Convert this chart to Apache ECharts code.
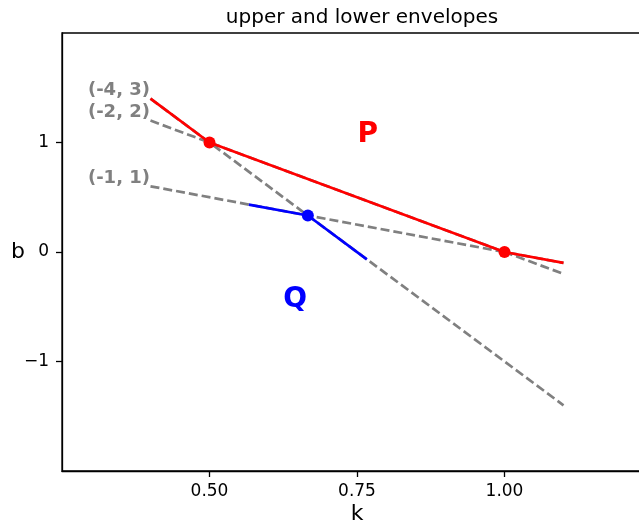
<!DOCTYPE html>
<html>
<head>
<meta charset="utf-8">
<script src="https://cdn.jsdelivr.net/npm/echarts@6/dist/echarts.min.js"></script>
<style>
html,body{margin:0;padding:0;background:#fff;overflow:hidden;}
#chart{width:639px;height:524px;}
</style>
</head>
<body>
<div id="chart"></div>
<script>
// ---- data ----
var xTicks = [0.5, 0.75, 1.0];
var yTicks = [-1, 0, 1];
// the three lines b = m*k + c, endpoints
var lineM4C3 = [[0.4, 1.4], [1.1, -1.4]];
var lineM2C2 = [[0.4, 1.2], [1.1, -0.2]];
var lineM1C1 = [[0.4, 0.6], [1.1, -0.1]];
// upper envelope (P)
var upperEnv = [[0.4, 1.4], [0.5, 1.0], [1.0, 0.0], [1.1, -0.1]];
var upperPts = [[0.5, 1.0], [1.0, 0.0]];
// lower envelope (Q)
var lowerEnv = [[0.5667, 0.4333], [0.6667, 0.3333], [0.7667, -0.0667]];
var lowerPts = [[0.6667, 0.3333]];
// annotations
var lineLabels = [
  {text: '(-4, 3)', pos: [0.4, 1.472]},
  {text: '(-2, 2)', pos: [0.4, 1.272]},
  {text: '(-1, 1)', pos: [0.4, 0.672]}
];
var pLabel = {text: 'P', pos: [0.769, 1.063]};
var qLabel = {text: 'Q', pos: [0.646, -0.44]};

var FONT = 'DejaVu Sans';
var GRAY = '#808080';

function dashed(data) {
  return {
    type: 'line', data: data, symbol: 'none', z: 2,
    lineStyle: {color: GRAY, width: 2.7, type: [9, 4]},
    silent: true, animation: false
  };
}
function textSeries(items, color, size, align) {
  return {
    type: 'scatter', z: 5, symbolSize: 1, silent: true,
    itemStyle: {color: 'rgba(0,0,0,0)', opacity: 1},
    data: items.map(function (l) { return {value: l.pos, name: l.text}; }),
    label: {show: true, position: [0, 0], align: align, verticalAlign: 'middle',
      formatter: '{b}', fontFamily: FONT, fontSize: size, fontWeight: 'bold', color: color, opacity: 1}
  };
}

var chart = echarts.init(document.getElementById('chart'), null, {renderer: 'canvas'});
var option = {
  animation: false,
  backgroundColor: '#fff',
  title: {
    text: 'upper and lower envelopes',
    left: 357, top: 3, textAlign: 'center',
    textStyle: {fontFamily: FONT, fontSize: 20, fontWeight: 'normal', color: '#000'}
  },
  grid: {
    left: 62, top: 33, width: 590, height: 438,
    outerBoundsMode: 'none', containLabel: false,
    show: true, borderColor: '#000', borderWidth: 1.3, backgroundColor: 'transparent'
  },
  xAxis: {
    type: 'value', min: 0.25, max: 1.25, interval: 0.25,
    name: 'k', nameLocation: 'middle', nameGap: 32, nameMoveOverlap: false,
    nameTextStyle: {fontFamily: FONT, fontSize: 22, color: '#000'},
    axisLine: {show: true, onZero: false, lineStyle: {color: '#000', width: 1.3}},
    axisTick: {show: true, length: 6, lineStyle: {color: '#000', width: 1.3}, customValues: xTicks},
    axisLabel: {fontFamily: FONT, fontSize: 17, color: '#000', margin: 12, customValues: xTicks,
      formatter: function (v) { return v.toFixed(2); }},
    splitLine: {show: false}
  },
  yAxis: {
    type: 'value', min: -2, max: 2, interval: 1,
    name: 'b', nameLocation: 'middle', nameGap: 37, nameRotate: 0, nameMoveOverlap: false,
    nameTextStyle: {fontFamily: FONT, fontSize: 22, color: '#000'},
    axisLine: {show: true, onZero: false, lineStyle: {color: '#000', width: 1.3}},
    axisTick: {show: true, length: 6, lineStyle: {color: '#000', width: 1.3}, customValues: yTicks},
    axisLabel: {fontFamily: FONT, fontSize: 17, color: '#000', margin: 13, customValues: yTicks,
      formatter: function (v) { return String(v).replace('-', '\u2212'); }},
    splitLine: {show: false}
  },
  series: [
    dashed(lineM4C3),
    dashed(lineM2C2),
    dashed(lineM1C1),
    {
      type: 'line', data: upperEnv, symbol: 'none', z: 3, silent: true,
      lineStyle: {color: '#ff0000', width: 2.7}
    },
    {
      type: 'line', data: lowerEnv, symbol: 'none', z: 3, silent: true,
      lineStyle: {color: '#0000ff', width: 2.7}
    },
    {
      type: 'scatter', data: upperPts, symbol: 'circle', symbolSize: 12, z: 4, silent: true,
      itemStyle: {color: '#ff0000', opacity: 1}
    },
    {
      type: 'scatter', data: lowerPts, symbol: 'circle', symbolSize: 12, z: 4, silent: true,
      itemStyle: {color: '#0000ff', opacity: 1}
    },
    textSeries(lineLabels, GRAY, 18, 'right'),
    textSeries([pLabel], '#ff0000', 28, 'center'),
    textSeries([qLabel], '#0000ff', 28, 'center')
  ]
};
chart.setOption(option);
</script>
</body>
</html>
